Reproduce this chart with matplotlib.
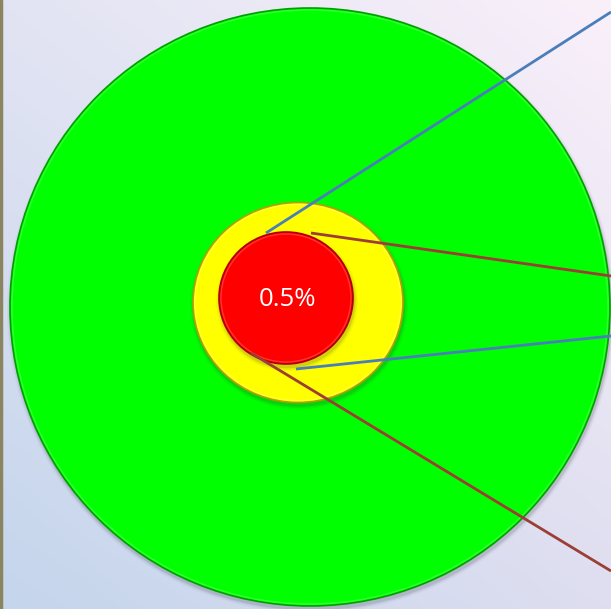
import numpy as np
import matplotlib.pyplot as plt
from matplotlib.patches import Ellipse

# canvas in pixel units
W, H = 611, 609

# background corner colours (top-left, top-right, bottom-left, bottom-right)
bg_tl = np.array([226, 228, 243]) / 255
bg_tr = np.array([250, 240, 250]) / 255
bg_bl = np.array([196, 213, 236]) / 255
bg_br = np.array([222, 222, 240]) / 255

# nested discs: outer -> inner
disc_x = [310, 298, 286]
disc_y = [307, 302.5, 298]
disc_w = [600, 210, 134]
disc_h = [598, 200, 132]
disc_face = ['#00ff00', '#ffff00', '#ff0000']
disc_edge = ['#00a000', '#b0a000', '#b00000']
center_label = '0.5%'

# leader lines (start x, start y, end x, end y)
line_x0 = [266, 311, 296, 251]
line_y0 = [233, 233, 369, 353]
line_x1 = [611, 611, 611, 611]
line_y1 = [12, 276, 336, 571]
line_color = ['#4a7ebb', '#9c3d36', '#4a7ebb', '#9c3d36']

fig = plt.figure(figsize=(W / 100, H / 100), dpi=100)
ax = fig.add_axes([0, 0, 1, 1])
ax.set_xlim(0, W)
ax.set_ylim(H, 0)
ax.set_aspect('auto')
ax.axis('off')

# gradient background
u = np.linspace(0, 1, 200)[None, :, None]
v = np.linspace(0, 1, 200)[:, None, None]
top = bg_tl * (1 - u) + bg_tr * u
bot = bg_bl * (1 - u) + bg_br * u
bg = top * (1 - v) + bot * v
ax.imshow(bg, extent=[0, W, H, 0], zorder=0, interpolation='bilinear')
ax.axvline(1, color='#8a8560', lw=2.5, zorder=1)

for i in range(len(disc_w)):
    # soft shadow
    for k, a in zip([8, 5, 2.5], [0.04, 0.07, 0.12]):
        ax.add_patch(Ellipse((disc_x[i] + 1, disc_y[i] + 3), disc_w[i] + k, disc_h[i] + k,
                             facecolor='#303040', edgecolor='none', alpha=a, zorder=2 + i * 3))
    ax.add_patch(Ellipse((disc_x[i], disc_y[i]), disc_w[i], disc_h[i], facecolor=disc_face[i],
                         edgecolor=disc_edge[i], lw=1.2, zorder=3 + i * 3))
    # slight inner highlight near the rim
    ax.add_patch(Ellipse((disc_x[i], disc_y[i]), disc_w[i] - 4, disc_h[i] - 4, facecolor='none',
                         edgecolor='white', lw=1.0, alpha=0.2, zorder=4 + i * 3))

for x0, y0, x1, y1, c in zip(line_x0, line_y0, line_x1, line_y1, line_color):
    ax.plot([x0, x1], [y0, y1], color=c, lw=2, zorder=20, solid_capstyle='butt')

ax.text(disc_x[2] + 1, disc_y[2] + 1.5, center_label, color='white', fontsize=18.5,
        family='Open Sans', ha='center', va='center', zorder=21)

fig.savefig('out.png', dpi=100)
